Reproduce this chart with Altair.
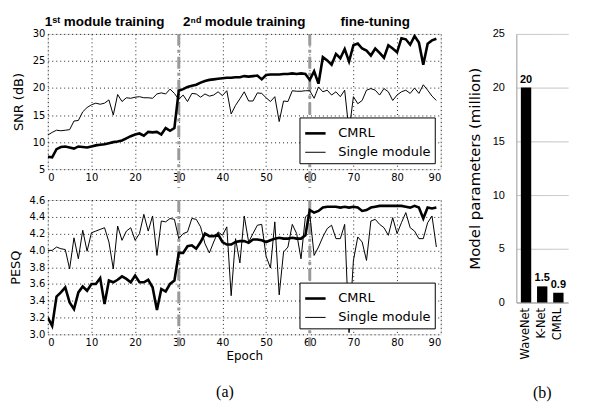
import altair as alt
import pandas as pd

epochs = list(range(90))
series_names = ["CMRL", "Single module"]

snr_cmrl = [7.3, 7.2, 8.7, 9.1, 9.2, 9.0, 8.8, 9.2, 9.1, 9.0,
            9.2, 9.4, 9.5, 9.6, 9.8, 10.0, 10.1, 10.3, 10.7, 11.1,
            11.4, 11.6, 11.2, 11.9, 11.8, 11.9, 11.4, 12.6, 12.1, 12.6,
            19.5, 19.8, 20.2, 20.4, 20.6, 21.0, 21.3, 21.5, 21.6, 21.7,
            21.8, 21.9, 21.9, 22.0, 22.0, 22.2, 22.1, 22.2, 22.3, 21.6,
            22.4, 22.5, 22.5, 22.5, 22.6, 22.6, 22.7, 22.6, 22.7, 22.6,
            21.5, 23.1, 20.8, 25.7, 25.1, 24.3, 26.3, 25.5, 27.2, 24.9,
            27.9, 28.2, 27.3, 26.9, 26.0, 27.3, 26.5, 25.6, 27.9, 27.3,
            26.6, 29.2, 29.0, 28.0, 29.6, 28.4, 24.3, 28.2, 28.8, 29.1]
snr_single = [11.3, 11.8, 12.2, 12.1, 12.2, 12.3, 13.9, 14.0, 15.6, 16.4,
              16.9, 17.2, 17.0, 17.2, 17.8, 15.0, 18.8, 17.5, 18.2, 18.1,
              18.3, 18.4, 18.2, 18.2, 18.1, 18.9, 19.1, 18.9, 19.8, 19.0,
              17.9, 18.7, 17.5, 19.0, 18.9, 18.3, 18.9, 18.5, 18.7, 19.3,
              18.6, 19.5, 15.2, 16.8, 18.0, 19.3, 17.6, 17.6, 19.1, 19.0,
              18.2, 17.5, 18.4, 13.8, 17.6, 17.5, 19.5, 19.4, 19.4, 19.5,
              19.5, 18.1, 20.2, 19.3, 19.6, 18.7, 19.3, 18.4, 19.6, 12.0,
              18.4, 17.1, 17.7, 19.6, 19.9, 19.6, 18.7, 19.9, 19.3, 17.7,
              18.7, 19.3, 19.6, 19.0, 20.0, 19.0, 20.6, 19.6, 18.5, 17.7]
pesq_cmrl = [3.20, 3.10, 3.45, 3.50, 3.56, 3.38, 3.30, 3.50, 3.57, 3.52,
             3.60, 3.60, 3.67, 3.36, 3.64, 3.62, 3.65, 3.69, 3.66, 3.62,
             3.70, 3.62, 3.62, 3.65, 3.56, 3.29, 3.54, 3.51, 3.60, 3.64,
             3.97, 3.97, 4.05, 4.06, 4.02, 4.10, 4.20, 4.17, 4.17, 4.19,
             4.10, 4.07, 4.07, 4.10, 4.11, 4.11, 4.09, 4.13, 4.13, 4.12,
             4.10, 4.12, 4.14, 4.15, 4.14, 4.14, 4.15, 4.14, 4.14, 4.18,
             4.48, 4.45, 4.47, 4.51, 4.52, 4.52, 4.52, 4.51, 4.52, 4.51,
             4.52, 4.51, 4.47, 4.48, 4.51, 4.52, 4.53, 4.53, 4.53, 4.53,
             4.53, 4.53, 4.52, 4.51, 4.53, 4.51, 4.38, 4.51, 4.50, 4.51]
pesq_single = [4.00, 4.00, 4.04, 4.02, 4.01, 3.78, 4.15, 3.90, 4.24, 3.99,
               4.21, 4.23, 4.25, 4.27, 4.10, 3.78, 4.29, 4.12, 4.23, 4.27,
               4.12, 4.20, 4.43, 4.23, 4.41, 3.94, 4.35, 4.34, 4.38, 4.37,
               4.14, 4.20, 4.22, 4.38, 4.37, 4.28, 4.08, 3.97, 4.10, 4.22,
               4.18, 4.28, 3.46, 4.14, 3.85, 4.41, 4.10, 4.20, 4.30, 4.31,
               3.93, 3.79, 4.34, 3.47, 3.98, 4.04, 4.31, 4.20, 3.90, 4.40,
               4.44, 3.94, 4.04, 4.16, 4.26, 4.30, 4.14, 4.14, 4.31, 3.02,
               3.88, 4.16, 4.10, 3.88, 4.35, 4.37, 4.31, 4.27, 4.18, 4.39,
               4.20, 4.33, 4.45, 4.27, 4.23, 4.14, 4.14, 4.33, 4.41, 4.04]

phase_labels = ["1ˢᵗ module training", "2ⁿᵈ module training", "fine-tuning"]
phase_centers = [13, 45, 75]
phase_bounds = [30, 60]

bar_models = ["WaveNet", "K-Net", "CMRL"]
bar_params = [20, 1.5, 0.9]
bar_labels = ["20", "1.5", "0.9"]

x_ticks = list(range(0, 91, 10))
snr_ticks = [5, 10, 15, 20, 25, 30]
pesq_ticks = [3.0, 3.2, 3.4, 3.6, 3.8, 4.0, 4.2, 4.4, 4.6]
bar_ticks = [0, 5, 10, 15, 20, 25]


def long_df(a, b):
    return pd.DataFrame({
        "epoch": epochs + epochs,
        "value": a + b,
        "series": [series_names[0]] * len(a) + [series_names[1]] * len(b),
    })


GRID = dict(grid=True, gridColor="black", gridDash=[1, 3], gridOpacity=0.85,
            domain=False, ticks=False, labelFont="DejaVu Sans", labelFontSize=10,
            labelColor="black", labelPadding=3)


def panel(df, ytitle, dom, yticks, fmt, height, rule_ext, xtitle):
    x = alt.X("epoch:Q", scale=alt.Scale(domain=[0, 90], nice=False),
              axis=alt.Axis(values=x_ticks, title=xtitle, titleFont="DejaVu Sans",
                            titleFontSize=12, titleFontWeight="normal", titlePadding=3,
                            titleColor="black", **GRID))
    y = alt.Y("value:Q", scale=alt.Scale(domain=dom, nice=False, zero=False),
              axis=alt.Axis(values=yticks, format=fmt, title=ytitle, titleFont="DejaVu Sans",
                            titleFontSize=13, titleFontWeight="normal", titlePadding=7,
                            titleColor="black", **GRID))
    lines = alt.Chart(df).mark_line(color="black", clip=True).encode(
        x=x, y=y,
        strokeWidth=alt.StrokeWidth(
            "series:N",
            scale=alt.Scale(domain=series_names, range=[2.6, 1.0]),
            legend=alt.Legend(title=None, orient="bottom-right", offset=6,
                              fillColor="white", strokeColor="black", padding=4,
                              labelFont="DejaVu Sans", labelFontSize=13, labelColor="black",
                              symbolType="stroke", symbolStrokeColor="black",
                              symbolSize=420, rowPadding=1, labelOffset=11, cornerRadius=0)))
    rules = alt.Chart(pd.DataFrame({"epoch": phase_bounds})).mark_rule(
        color="#9a9a9a", strokeWidth=3, strokeDash=[12, 4, 3, 4]).encode(
        x="epoch:Q", y=alt.value(0), y2=alt.value(height + rule_ext))
    return lines, rules


top_lines, top_rules = panel(long_df(snr_cmrl, snr_single), "SNR (dB)", [5, 30], snr_ticks, "d",
                             136, 19, None)
phase_text = alt.Chart(pd.DataFrame({"x": phase_centers, "t": phase_labels})).mark_text(
    font="Liberation Sans", fontSize=13.5, fontWeight="bold", baseline="alphabetic", align="center",
    color="black").encode(x="x:Q", y=alt.value(-8), text="t:N")
top = alt.layer(top_rules, top_lines, phase_text).properties(width=395, height=136)

bot_lines, bot_rules = panel(long_df(pesq_cmrl, pesq_single), "PESQ", [3.0, 4.6], pesq_ticks, ".1f",
                             135, 12, "Epoch")
bottom = alt.layer(bot_rules, bot_lines).properties(width=395, height=135)

left = alt.vconcat(top, bottom, spacing=4).resolve_scale(
    strokeWidth="independent").resolve_legend(strokeWidth="independent").properties(
    title=alt.TitleParams("(a)", orient="bottom", font="Liberation Serif", fontSize=16,
                          fontWeight="normal", anchor="middle", offset=22, color="black"))

bar_df = pd.DataFrame({"model": bar_models, "params": bar_params, "label": bar_labels})
bx = alt.X("model:N", sort=bar_models,
           scale=alt.Scale(paddingInner=0.36, paddingOuter=0.28),
           axis=alt.Axis(title=None, labelAngle=270, labelFont="DejaVu Sans", labelFontSize=11.5,
                         labelColor="black", domainColor="#9a9a9a", ticks=False, labelPadding=5,
                         grid=False))
by = alt.Y("params:Q", scale=alt.Scale(domain=[0, 25], nice=False),
           axis=alt.Axis(values=bar_ticks, title="Model parameters (million)",
                         titleFont="DejaVu Sans", titleFontSize=15, titleFontWeight="normal",
                         titleColor="black", titlePadding=10, labelFont="Liberation Sans",
                         labelFontSize=11, labelColor="black", labelPadding=12, ticks=False,
                         domain=True, domainColor="#9a9a9a", grid=True, gridColor="#bdbdbd",
                         gridDash=[1, 0], gridOpacity=1))
bars = alt.Chart(bar_df).mark_bar(color="black").encode(x=bx, y=by)
bar_text = alt.Chart(bar_df).mark_text(font="Liberation Sans", fontSize=11, fontWeight="bold",
                                       baseline="bottom", dy=-3, color="black").encode(
    x=bx, y=by, text="label:N")
spacer = alt.Chart(pd.DataFrame({"t": ["fine-tuning"]})).mark_text(
    font="Liberation Sans", fontSize=13.5, fontWeight="bold", baseline="alphabetic", opacity=0).encode(
    x=alt.value(30), y=alt.value(-8), text="t:N")
bar = alt.layer(bars, bar_text, spacer).properties(
    width=52, height=270, view=alt.ViewBackground(stroke="transparent"),
    title=alt.TitleParams("(b)", orient="bottom", font="Liberation Serif", fontSize=16,
                          fontWeight="normal", anchor="middle", offset=26, color="black"))

chart = alt.hconcat(left, bar, spacing=25).configure_view(
    stroke="black", strokeWidth=1).configure(padding={"left": 0, "top": 5, "right": 0, "bottom": 0})

chart.save("out.html", embed_options={"renderer": "svg", "actions": False})
